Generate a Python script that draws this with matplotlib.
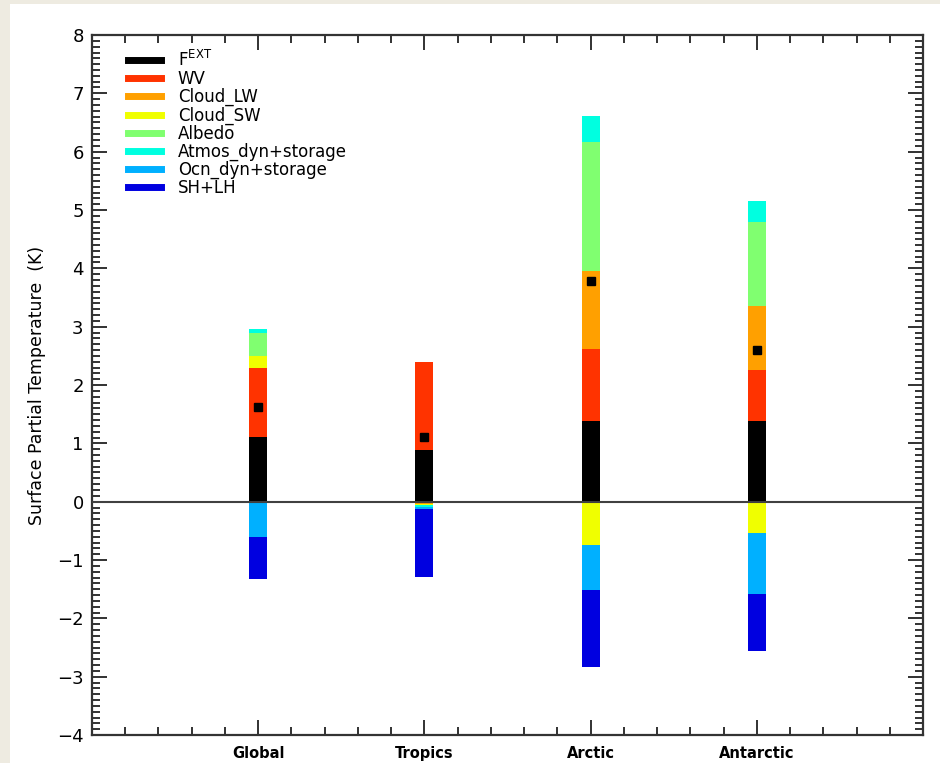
import numpy as np
import matplotlib.pyplot as plt
from matplotlib.patches import Rectangle
from matplotlib.ticker import MultipleLocator, FixedLocator

regions = ['Global', 'Tropics', 'Arctic', 'Antarctic']
terms = [r'F$^{\mathrm{EXT}}$', 'WV', 'Cloud_LW', 'Cloud_SW', 'Albedo',
         'Atmos_dyn+storage', 'Ocn_dyn+storage', 'SH+LH']
colors = ['#000000', '#ff3300', '#ffa000', '#f0ff00', '#80ff70',
          '#00ffe0', '#00b0ff', '#0000e0']

# partial temperatures (K), one list per term, in region order
fext = [1.11, 0.88, 1.38, 1.38]
wv = [1.18, 1.52, 1.23, 0.87]
cloud_lw = [0.0, -0.04, 1.34, 1.10]
cloud_sw = [0.21, -0.01, -0.75, -0.53]
albedo = [0.40, 0.0, 2.21, 1.45]
atmos = [0.06, -0.04, 0.45, 0.36]
ocn = [-0.60, -0.04, -0.76, -1.06]
shlh = [-0.73, -1.16, -1.32, -0.97]

vals = np.array([fext, wv, cloud_lw, cloud_sw, albedo, atmos, ocn, shlh])
xpos = np.arange(1, len(regions) + 1)

fig = plt.figure(figsize=(9.4, 7.63), dpi=100, facecolor='#eeebe1')
fig.add_artist(Rectangle((10/940, 0), 1, 1 - 4/763, transform=fig.transFigure,
                         facecolor='white', edgecolor='none', zorder=-5))
ax = fig.add_axes([92/940, 1 - 735/763, (923-92)/940, 700/763])
ax.set_zorder(2)
ax.patch.set_alpha(0)

pos_base = np.zeros(len(regions))
neg_base = np.zeros(len(regions))
for i in range(len(terms)):
    v = vals[i]
    bot = np.where(v >= 0, pos_base, neg_base)
    ax.bar(xpos, v, width=0.108, bottom=bot, color=colors[i], zorder=2)
    pos_base = pos_base + np.where(v >= 0, v, 0)
    neg_base = neg_base + np.where(v < 0, v, 0)
    ax.plot([], [], color=colors[i], lw=5, label=terms[i])

total = vals.sum(axis=0)
ax.plot(xpos, total, 's', color='black', ms=6, zorder=3)

ax.axhline(0, color='#404040', lw=1.5, zorder=3)

ax.set_xlim(0, 5)
ax.set_ylim(-4, 8)
ax.xaxis.set_major_locator(FixedLocator(xpos))
ax.xaxis.set_minor_locator(MultipleLocator(0.2))
ax.yaxis.set_major_locator(MultipleLocator(1))
ax.yaxis.set_minor_locator(MultipleLocator(0.1))
ax.set_xticklabels(regions, fontsize=10.5, fontweight='semibold')
ax.tick_params(which='both', direction='in', top=True, right=True, width=1.3, color='#222222')
ax.tick_params(which='major', length=11)
ax.tick_params(which='minor', length=6)
ax.tick_params(axis='y', labelsize=13, pad=6)
ax.tick_params(axis='x', pad=8)
for s in ax.spines.values():
    s.set_linewidth(1.6)
    s.set_color('#333333')

ax.set_ylabel('Surface Partial Temperature  (K)', fontsize=12.5, labelpad=8)

leg = ax.legend(loc='upper left', frameon=False, fontsize=12, handlelength=2.0,
                labelspacing=0.0, handletextpad=1.0, borderaxespad=0.5,
                bbox_to_anchor=(0.025, 1.0))

fig.savefig('out.png', dpi=100, facecolor=fig.get_facecolor())
